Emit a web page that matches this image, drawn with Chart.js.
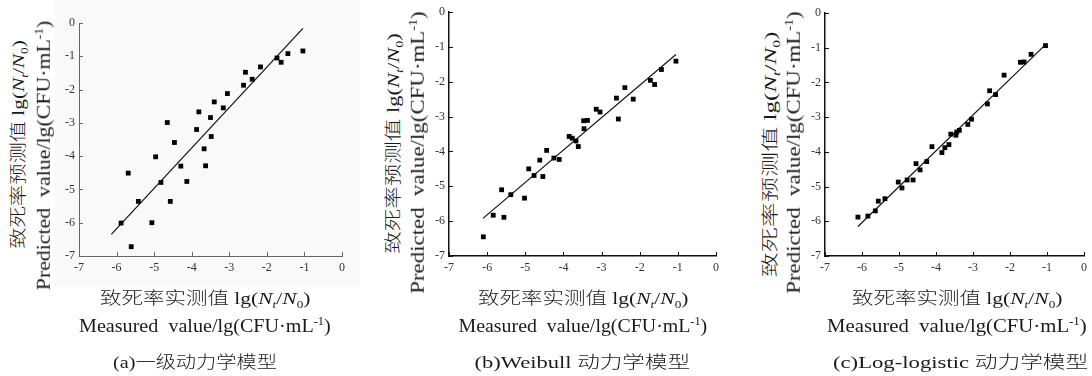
<!DOCTYPE html>
<html>
<head>
<meta charset="utf-8">
<script src="https://cdn.jsdelivr.net/npm/chart.js@4.4.0/dist/chart.umd.min.js"></script>
<style>
  body { margin: 0; background: #fff; width: 1092px; height: 376px; position: relative; overflow: hidden;
         font-family: "Liberation Serif", "Noto Sans CJK SC", serif; color: #1a1a1a; }
  .box { position: absolute; }
  .txt { position: absolute; white-space: nowrap; line-height: 1; font-weight: 300; }
  sub, sup { font-size: 62%; line-height: 0; }
  i { font-style: italic; }
</style>
</head>
<body>
<div class="box" style="left:55px;top:0;width:305px;height:287px;background:#f9f9f9"></div>
<div class="box" id="pa"><canvas id="ca"></canvas></div>
<div class="box" id="pb"><canvas id="cb"></canvas></div>
<div class="box" id="pc"><canvas id="cc"></canvas></div>
<div id="labels"></div>
<script>
// axis ticks shared by all three panels
const tickValues = [-7, -6, -5, -4, -3, -2, -1, 0];

// (a) first-order kinetic model: measured vs predicted
const measuredA = [-5.88, -5.69, -5.61, -5.42, -5.06, -4.96, -4.82, -4.65, -4.57, -4.46, -4.29, -4.13, -3.87, -3.81, -3.67,
                   -3.63, -3.50, -3.48, -3.40, -3.16, -3.05, -2.62, -2.57, -2.39, -2.17, -1.73, -1.62, -1.44, -1.04];
const predictedA = [-6.01, -4.51, -6.72, -5.36, -6.00, -4.02, -4.79, -2.99, -5.36, -3.59, -4.30, -4.76, -3.20, -2.67, -3.78,
                    -4.29, -2.84, -3.41, -2.37, -2.55, -2.12, -1.87, -1.48, -1.69, -1.32, -1.05, -1.18, -0.92, -0.84];
const fitA_x = [-6.14, -1.04];
const fitA_y = [-6.35, -0.16];

// (b) Weibull model
const measuredB = [-6.10, -5.84, -5.62, -5.56, -5.38, -5.02, -4.91, -4.77, -4.62, -4.54, -4.44, -4.25, -4.11, -3.85, -3.77,
                   -3.67, -3.61, -3.47, -3.46, -3.37, -3.14, -3.04, -2.61, -2.56, -2.39, -2.17, -1.72, -1.61, -1.43, -1.05];
const predictedB = [-6.45, -5.83, -5.10, -5.89, -5.24, -5.34, -4.50, -4.69, -4.25, -4.72, -3.97, -4.19, -4.23, -3.57, -3.62,
                    -3.70, -3.86, -3.12, -3.35, -3.11, -2.79, -2.87, -2.47, -3.07, -2.17, -2.50, -1.96, -2.08, -1.65, -1.41];
const fitB_x = [-6.11, -1.05];
const fitB_y = [-5.92, -1.22];

// (c) Log-logistic model
const measuredC = [-6.11, -5.84, -5.64, -5.56, -5.38, -5.02, -4.92, -4.78, -4.62, -4.54, -4.43, -4.25, -4.11, -3.84, -3.76,
                   -3.65, -3.60, -3.46, -3.44, -3.37, -3.14, -3.04, -2.61, -2.55, -2.39, -2.16, -1.72, -1.62, -1.43, -1.04];
const predictedC = [-5.88, -5.85, -5.70, -5.42, -5.35, -4.87, -5.04, -4.81, -4.81, -4.34, -4.52, -4.28, -3.85, -4.02, -3.88,
                    -3.79, -3.49, -3.52, -3.43, -3.38, -3.21, -3.06, -2.62, -2.24, -2.35, -1.79, -1.42, -1.41, -1.19, -0.94];
const fitC_x = [-6.11, -1.04];
const fitC_y = [-6.15, -0.91];

const yTitle1 = '致死率预测值 lg(<i>N</i><sub><i>t</i></sub>/<i>N</i><sub>0</sub>)';
const yTitle2 = 'Predicted&nbsp;&nbsp;value/lg(CFU·mL<sup>-1</sup>)';
const xTitle1 = '致死率实测值 lg(<i>N</i><sub><i>t</i></sub>/<i>N</i><sub>0</sub>)';
const xTitle2 = 'Measured&nbsp;&nbsp;value/lg(CFU·mL<sup>-1</sup>)';
const captions = ['(a)一级动力学模型', '(b)Weibull 动力学模型', '(c)Log-logistic 动力学模型'];

const pairs = (xs, ys) => xs.map((x, i) => ({ x: x, y: ys[i] }));

// inward tick marks, like the original figure
const innerTicks = {
  id: 'innerTicks',
  afterDraw(chart, args, opts) {
    const ctx = chart.ctx, a = chart.chartArea;
    const xs = chart.scales.x, ys = chart.scales.y;
    ctx.save();
    ctx.strokeStyle = opts.color;
    ctx.lineWidth = 1;
    ctx.beginPath();
    tickValues.forEach(v => {
      const px = Math.round(xs.getPixelForValue(v)) + 0.5;
      ctx.moveTo(px, a.bottom); ctx.lineTo(px, a.bottom - 4);
      const py = Math.round(ys.getPixelForValue(v)) + 0.5;
      ctx.moveTo(a.left, py); ctx.lineTo(a.left + 4, py);
    });
    ctx.stroke();
    ctx.restore();
  }
};

function makePanel(boxId, canvasId, plot, xs, ys, fx, fy, axisColor, axisWidth) {
  const yAxisW = 30, xAxisH = 290 - plot.bottom;
  const left = plot.left - yAxisW;
  const right = Math.min(plot.right + 12, 1092);
  const box = document.getElementById(boxId);
  box.style.left = left + 'px';
  box.style.top = '0px';
  box.style.width = (right - left) + 'px';
  box.style.height = '290px';

  const tickFont = { family: 'Liberation Serif', size: 12 };
  new Chart(document.getElementById(canvasId), {
    type: 'scatter',
    data: {
      datasets: [
        {
          data: pairs(xs, ys),
          pointStyle: 'rect',
          pointRadius: 3.4,
          pointHoverRadius: 3.4,
          backgroundColor: '#000',
          borderWidth: 0
        },
        {
          type: 'line',
          data: pairs(fx, fy),
          borderColor: '#111',
          borderWidth: 1.2,
          pointRadius: 0,
          fill: false
        }
      ]
    },
    options: {
      responsive: true,
      maintainAspectRatio: false,
      animation: false,
      events: [],
      layout: { padding: { top: plot.top, right: right - plot.right, bottom: 0, left: 0 } },
      plugins: { legend: { display: false }, tooltip: { enabled: false }, innerTicks: { color: axisColor } },
      scales: {
        x: {
          type: 'linear', min: -7, max: 0,
          afterFit: s => { s.height = xAxisH; },
          afterBuildTicks: s => { s.ticks = tickValues.map(v => ({ value: v })); },
          grid: { display: false, drawTicks: false },
          border: { color: axisColor, width: axisWidth },
          ticks: { font: tickFont, color: '#333', padding: 5, maxRotation: 0 }
        },
        y: {
          type: 'linear', min: -7, max: 0,
          afterFit: s => { s.width = yAxisW; },
          afterBuildTicks: s => { s.ticks = tickValues.map(v => ({ value: v })); },
          grid: { display: false, drawTicks: false },
          border: { color: axisColor, width: axisWidth },
          ticks: { font: tickFont, color: '#333', padding: 4 }
        }
      }
    },
    plugins: [innerTicks]
  });
}

makePanel('pa', 'ca', { left: 79, right: 342, top: 23, bottom: 256 }, measuredA, predictedA, fitA_x, fitA_y, '#666', 1);
makePanel('pb', 'cb', { left: 449, right: 716, top: 12, bottom: 256 }, measuredB, predictedB, fitB_x, fitB_y, '#111', 1.5);
makePanel('pc', 'cc', { left: 825, right: 1090, top: 13, bottom: 256 }, measuredC, predictedC, fitC_x, fitC_y, '#111', 1.5);

// HTML labels: each line is stretched to the width it has in the original figure
const labels = document.getElementById('labels');
function addText(html, cx, cy, size, width, rotated) {
  const d = document.createElement('div');
  d.className = 'txt';
  d.style.fontSize = size + 'px';
  d.innerHTML = html;
  labels.appendChild(d);
  const w = d.offsetWidth, h = d.offsetHeight;
  d.style.left = (cx - w / 2) + 'px';
  d.style.top = (cy - h / 2) + 'px';
  const k = width / w;
  d.style.transform = (rotated ? 'rotate(-90deg) ' : '') + 'scaleX(' + k.toFixed(3) + ')';
}
// [cx1, cy1, len1, cx2, cy2, len2]
const yTitlePos = [
  [18, 144, 208, 43, 155, 270],
  [393, 143, 220, 417, 152, 283],
  [770, 154, 245, 793, 152, 283]
];
// [center, line1 width, line2 width, caption center, caption width]
const xTitlePos = [
  [205, 210, 252, 195, 164],
  [583, 210, 249, 582, 215],
  [957, 210, 260, 960, 255]
];
yTitlePos.forEach((p, i) => {
  addText(yTitle1, p[0], p[1], 17, p[2], true);
  addText(yTitle2, p[3], p[4], 19, p[5], true);
  const q = xTitlePos[i];
  addText(xTitle1, q[0], 298, 17, q[1], false);
  addText(xTitle2, q[0], 325, 19, q[2], false);
  addText(captions[i], q[3], 362, 17, q[4], false);
});
</script>
</body>
</html>
